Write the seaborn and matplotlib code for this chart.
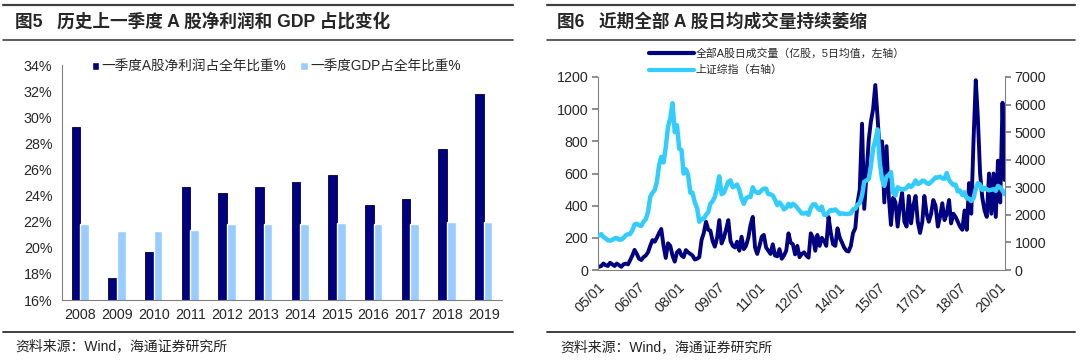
import numpy as np
import pandas as pd
import matplotlib
matplotlib.use('Agg')
import matplotlib.pyplot as plt
import matplotlib.dates as mdates
from matplotlib.lines import Line2D
import seaborn as sns

# ---- left chart data (Q1 share of full year, %) ----
years = ['2008', '2009', '2010', '2011', '2012', '2013',
         '2014', '2015', '2016', '2017', '2018', '2019']
profit_q1 = [29.25, 17.7, 19.7, 24.65, 24.2, 24.65, 25.05, 25.6, 23.25, 23.7, 27.6, 31.8]
gdp_q1 = [21.8, 21.25, 21.25, 21.4, 21.8, 21.85, 21.85, 21.9, 21.8, 21.85, 22.0, 22.0]

# ---- right chart data, monthly from 2005/01 to 2020/03 ----
volume = [
    20, 25, 40, 30, 25, 45, 35, 25, 40, 30, 20, 35,            # 2005
    40, 35, 60, 90, 125, 100, 70, 62, 80, 90, 110, 150,       # 2006
    186, 176, 200, 230, 255, 150, 75, 166, 150, 90, 52, 110,  # 2007
    124, 90, 80, 124, 110, 100, 90, 65, 70, 80, 186, 230,     # 2008
    300, 250, 245, 180, 145, 200, 310, 165, 200, 250, 310, 180,  # 2009
    150, 140, 176, 120, 207, 130, 150, 200, 280, 330, 140, 100,  # 2010
    150, 207, 218, 140, 120, 100, 160, 90, 85, 130, 70, 90,   # 2011
    120, 228, 170, 160, 97, 150, 80, 100, 110, 90, 77, 228,   # 2012
    200, 120, 218, 150, 200, 180, 150, 330, 230, 160, 150, 259,  # 2013
    200, 170, 140, 120, 115, 150, 230, 260, 420, 500, 910, 380,  # 2014
    600, 810, 920, 1000, 1150, 950, 720, 800, 420, 770, 460, 280,  # 2015
    450, 420, 270, 400, 480, 300, 270, 460, 290, 400, 460, 300,  # 2016
    230, 300, 460, 350, 300, 350, 435, 400, 270, 330, 415, 310,  # 2017
    350, 435, 290, 350, 330, 300, 270, 250, 370, 250, 540, 350,  # 2018
    800, 1180, 950, 600, 450, 370, 330, 600, 350, 600, 330, 680,  # 2019
    420, 1040, 560,                                            # 2020
]
sse = [
    1250, 1300, 1200, 1150, 1080, 1060, 1090, 1150, 1160, 1100, 1100, 1160,
    1260, 1300, 1300, 1440, 1650, 1680, 1620, 1600, 1750, 1840, 2100, 2650,
    2800, 2900, 3180, 3800, 4100, 3900, 4450, 5200, 5500, 6050, 5000, 5250,
    4400, 4350, 3500, 3650, 3450, 2800, 2800, 2450, 2250, 1750, 1850, 1850,
    2000, 2100, 2400, 2500, 2650, 3000, 3400, 2750, 2800, 3000, 3200, 3250,
    3000, 3050, 3100, 2900, 2600, 2400, 2600, 2650, 2650, 3000, 2850, 2800,
    2800, 2900, 2950, 2950, 2750, 2750, 2700, 2550, 2350, 2450, 2350, 2200,
    2250, 2400, 2300, 2400, 2350, 2250, 2150, 2050, 2050, 2080, 2000, 2250,
    2380, 2380, 2250, 2180, 2300, 2000, 2000, 2100, 2180, 2150, 2200, 2120,
    2030, 2050, 2040, 2030, 2040, 2050, 2200, 2220, 2370, 2430, 2700, 3200,
    3250, 3300, 3750, 4400, 4700, 5100, 3900, 3300, 3050, 3380, 3450, 3550,
    2800, 2700, 3000, 2950, 2920, 2930, 2980, 3080, 3010, 3100, 3250, 3120,
    3150, 3240, 3230, 3150, 3120, 3190, 3270, 3360, 3350, 3390, 3320, 3310,
    3520, 3260, 3170, 3080, 3100, 2850, 2880, 2720, 2820, 2600, 2590, 2500,
    2600, 2940, 3150, 3100, 2900, 2980, 2930, 2890, 2910, 2930, 2870, 3050,
    3000, 2880, 2750,
]
vol_label = '全部A股日成交量（亿股，5日均值，左轴）'
sse_label = '上证综指（右轴）'

sns.set_theme(style='white')
plt.rcParams['font.family'] = ['Liberation Sans', 'Noto Sans CJK SC']
plt.rcParams['axes.unicode_minus'] = False

DARK = '#000080'
LIGHT = '#99CCFF'
CYAN = '#33CCFF'
GRID = '#808080'
TICK_FS = 10.3

fig = plt.figure(figsize=(10.8, 3.6), dpi=100)

# ---------------- left panel: bars ----------------
bars = pd.DataFrame({
    'year': years * 2,
    'value': profit_q1 + gdp_q1,
    'series': ['一季度A股净利润占全年比重%'] * len(years) + ['一季度GDP占全年比重%'] * len(years),
})
ax1 = fig.add_axes([62 / 1080, 1 - 300 / 360, 440 / 1080, 235 / 360])
sns.barplot(data=bars, x='year', y='value', hue='series', palette=[DARK, LIGHT],
            width=0.47, gap=0, ax=ax1, saturation=1, legend=True)
for p in ax1.patches[:len(years)]:
    p.set_edgecolor('#000033')
    p.set_linewidth(0.6)
ax1.set_ylim(16, 34)
ax1.set_xlim(-0.5, len(years) - 0.5)
ax1.set_yticks(np.arange(16, 35, 2))
ax1.set_yticklabels([f'{v}%' for v in range(16, 35, 2)], fontsize=TICK_FS)
ax1.set_xticks(np.arange(-0.5, len(years), 1), minor=False)
ax1.set_xticklabels([])
ax1.set_xticks(np.arange(len(years)), minor=True)
ax1.set_xticklabels(years, minor=True, fontsize=TICK_FS)
ax1.tick_params(axis='x', which='major', direction='out', length=4, color=GRID, width=0.8)
ax1.tick_params(axis='x', which='minor', length=0, pad=6)
ax1.tick_params(axis='y', direction='out', length=4, color=GRID, width=0.8, pad=3)
ax1.set_xlabel('')
ax1.set_ylabel('')
for s in ['top', 'right']:
    ax1.spines[s].set_visible(False)
for s in ['left', 'bottom']:
    ax1.spines[s].set_color(GRID)
    ax1.spines[s].set_linewidth(0.8)
ax1.legend(loc='upper left', bbox_to_anchor=(0.055, 1.045), ncol=2, frameon=False,
           fontsize=9.8, handlelength=0.55, handleheight=0.55, handletextpad=0.2,
           columnspacing=1.0, borderaxespad=0)

# ---------------- right panel: lines ----------------
dates = pd.date_range('2005-01-01', periods=len(volume), freq='MS') + pd.Timedelta(days=14)
ax2 = fig.add_axes([598 / 1080, 1 - 270 / 360, 407 / 1080, 193 / 360])
ax3 = ax2.twinx()
sns.lineplot(x=dates, y=volume, ax=ax2, color=DARK, lw=2.8)
sns.lineplot(x=dates, y=sse, ax=ax3, color=CYAN, lw=3.2)
ax2.set_ylim(0, 1200)
ax3.set_ylim(0, 7000)
ax2.set_yticks(range(0, 1201, 200))
ax3.set_yticks(range(0, 7001, 1000))
ax2.set_xlim(pd.Timestamp('2005-01-01'), pd.Timestamp('2020-03-20'))
xt = pd.date_range('2005-01-01', '2020-01-01', freq='18MS')
ax2.set_xticks(xt)
ax2.xaxis.set_major_formatter(mdates.DateFormatter('%y/%m'))
for lab in ax2.get_xticklabels():
    lab.set_rotation(45)
    lab.set_ha('right')
    lab.set_rotation_mode('anchor')
ax2.tick_params(axis='x', direction='out', length=4, color=GRID, labelsize=TICK_FS, pad=3)
ax2.tick_params(axis='y', direction='out', length=4, color=GRID, labelsize=TICK_FS, pad=3)
ax3.tick_params(axis='y', direction='out', length=4, color=GRID, labelsize=TICK_FS, pad=3)
ax2.set_xlabel('')
ax2.set_ylabel('')
ax3.set_ylabel('')
for a in (ax2, ax3):
    a.spines['top'].set_visible(False)
    for s in ['left', 'right', 'bottom']:
        a.spines[s].set_color(GRID)
        a.spines[s].set_linewidth(0.8)
ax2.spines['right'].set_visible(False)
ax3.spines['left'].set_visible(False)
ax3.spines['bottom'].set_visible(False)

handles = [Line2D([], [], color=DARK, lw=3), Line2D([], [], color=CYAN, lw=3)]
fig.legend(handles, [vol_label, sse_label], loc='upper left',
           bbox_to_anchor=(645 / 1080, 1 - 44 / 360), frameon=False, fontsize=7.8,
           handlelength=4.1, handletextpad=0.15, labelspacing=0.55, borderaxespad=0)

# ---------------- frame lines, titles, sources ----------------
for x0, x1 in [(3 / 1080, 513 / 1080), (547 / 1080, 1075 / 1080)]:
    fig.add_artist(Line2D([x0, x1], [1 - 5 / 360] * 2, color='#404040', lw=1.6))
    fig.add_artist(Line2D([x0, x1], [1 - 40 / 360] * 2, color='#404040', lw=1.2))
    fig.add_artist(Line2D([x0, x1], [1 - 332 / 360] * 2, color='#404040', lw=1.4))

fig.text(15 / 1080, 1 - 22 / 360, '图5   历史上一季度 A 股净利润和 GDP 占比变化',
         fontsize=12.7, fontweight='bold', va='center', ha='left')
fig.text(557 / 1080, 1 - 22 / 360, '图6   近期全部 A 股日均成交量持续萎缩',
         fontsize=12.7, fontweight='bold', va='center', ha='left')
fig.text(15 / 1080, 1 - 346 / 360, '资料来源：Wind，海通证券研究所',
         fontsize=10, va='center', ha='left', color='#222222')
fig.text(560 / 1080, 1 - 347 / 360, '资料来源：Wind，海通证券研究所',
         fontsize=10, va='center', ha='left', color='#222222')

fig.savefig('out.png', dpi=100)
